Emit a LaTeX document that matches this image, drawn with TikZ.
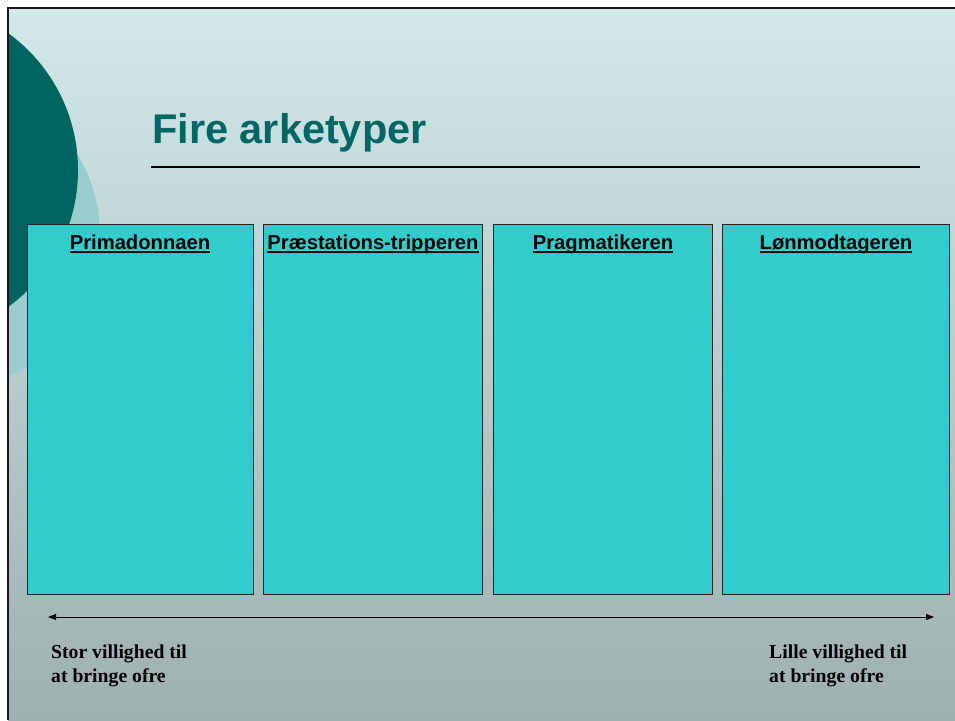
\documentclass[tikz,border=0pt]{standalone}
\usepackage{fontspec}
\setmainfont{Liberation Serif}
\setsansfont{Liberation Sans}
\usepackage{tikz}
\usetikzlibrary{arrows.meta}

\definecolor{slidetop}{RGB}{210,232,233}
\definecolor{slidebottom}{RGB}{158,176,176}
\definecolor{darkteal}{RGB}{0,100,96}
\definecolor{paleteal}{RGB}{153,204,204}
\definecolor{boxcyan}{RGB}{51,204,204}
\definecolor{titleteal}{RGB}{0,102,102}
% thick underline for the column heads
\newcommand{\hdul}[1]{\setbox0\hbox{#1}\rlap{\rule[-4.2pt]{\wd0}{2.6pt}}\box0}

\begin{document}
\begin{tikzpicture}
		[x=1pt,y=-1pt,
		typebox/.style={draw=black!85,fill=boxcyan,semithick,
inner sep=0pt,minimum width=#1,minimum height=370pt},
		typehead/.style={anchor=base,inner sep=0pt,
font=\sffamily\bfseries\fontsize{20.2}{24}\selectfont},
		titlestyle/.style={anchor=base west,inner sep=0pt,text=titleteal,
font=\sffamily\bfseries\fontsize{41.5}{48}\selectfont},
		endnote/.style={anchor=base west,inner sep=0pt,align=left,
font=\rmfamily\bfseries\fontsize{19.7}{24}\selectfont},
		scalearrow/.style={{Triangle[length=8pt,width=6pt]}-{Triangle[length=8pt,width=6pt]},line width=0.9pt}]
		\useasboundingbox (0,0) rectangle (955,720);
		\shade[top color=slidetop,bottom color=slidebottom] (8,8) rectangle (955,720);
		\begin{scope}
			\clip (8,8) rectangle (955,720);
			\fill[paleteal] (-55,235) circle [radius=155pt];
			\fill[darkteal] (-91,170) circle [radius=169pt];
		\end{scope}
		\draw[line width=2pt,black!90] (8,720) -- (8,8) -- (955,8);
		\node at (152,143) (title) [titlestyle] {Fire arketyper};
		\draw[line width=2pt] (151,166.5) -- (920,166.5);
		\node at (140,409) (prima) [typebox=226pt] {};
		\node at (372.5,409) (praest) [typebox=219pt] {};
		\node at (602.5,409) (pragma) [typebox=219pt] {};
		\node at (835.5,409) (loen) [typebox=227pt] {};
		\node at (140,249) (primahead) [typehead] {\hdul{Primadonnaen}};
		\node at (373,249) (praesthead) [typehead] {\hdul{Præstations-tripperen}};
		\node at (603,249) (pragmahead) [typehead] {\hdul{Pragmatikeren}};
		\node at (836,249) (loenhead) [typehead] {\hdul{Lønmodtageren}};
		\coordinate (scaleleft) at (48,617);
		\coordinate (scaleright) at (934,617);
		\draw[scalearrow] (scaleleft) -- (scaleright);
		% base of a two-line node is the last line
		\node at (51,682) (stor) [endnote] {Stor villighed til\\at bringe ofre};
		\node at (769,682) (lille) [endnote] {Lille villighed til\\at bringe ofre};
	\end{tikzpicture}
\end{document}
